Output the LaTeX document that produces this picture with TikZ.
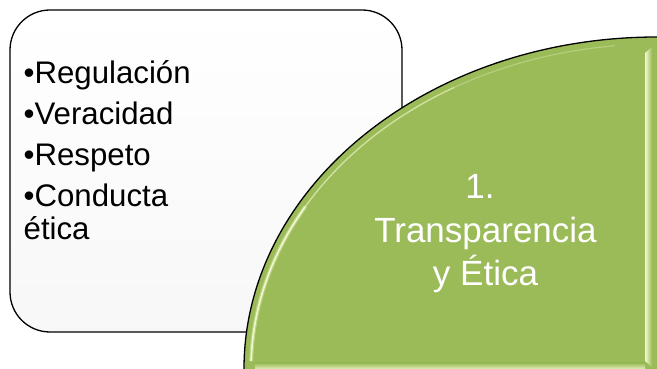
\documentclass[tikz,border=0pt]{standalone}
\usepackage{fontspec}
\setmainfont{Liberation Sans}
\definecolor{olivegreen}{HTML}{9BBB59}
\definecolor{hilite}{HTML}{F4FAD0}
\begin{document}
\begin{tikzpicture}[x=1pt,y=1pt,
  item/.style={anchor=base west, inner sep=0pt, text=black,
    font=\fontsize{31.2}{34}\selectfont},
  title/.style={anchor=base, inner sep=0pt, text=white,
    font=\fontsize{35}{40}\selectfont},
  panel/.style={draw=black, line width=1.3pt, rounded corners=40pt,
    top color=white, bottom color=black!3, inner sep=0pt, outer sep=0pt}]
\useasboundingbox (0,0) rectangle (657,369);
% left rounded panel
\node[panel, minimum width=392pt, minimum height=322pt, anchor=north west] (box) at (10,359) {};
% list text
\node[item] (l1) at (23.5,285) {•Regulación};
\node[item] (l2) at (23.5,244) {•Veracidad};
\node[item] (l3) at (23.5,203) {•Respeto};
\node[item] (l4) at (23.5,162) {•Conducta};
\node[item] (l5) at (23.5,129) {ética};
% green quarter shape
\fill[olivegreen] (657,-2) -- (244,-2) -- (244,0)
  arc[start angle=180, end angle=90, x radius=413, y radius=332] -- (659,332) -- (659,-2) -- cycle;
% bevel highlights
\draw[hilite, line width=4pt, opacity=0.35] (657,0) ++(178.6:406 and 325) arc[start angle=178.6, end angle=150, x radius=406, y radius=325];
\draw[hilite, line width=1.6pt, opacity=0.95] (657,0) ++(178.6:406 and 325) arc[start angle=178.6, end angle=150, x radius=406, y radius=325];
\draw[hilite, line width=1.4pt, opacity=0.6] (657,0) ++(150:406 and 325) arc[start angle=150, end angle=120, x radius=406, y radius=325];
\draw[hilite, line width=1.2pt, opacity=0.3] (657,0) ++(120:406 and 325) arc[start angle=120, end angle=96, x radius=406, y radius=325];
\shade[left color=hilite, right color=olivegreen] (645,8) -- (645,316) -- (652,322) -- (652,2) -- cycle;
\shade[bottom color=hilite!80!olivegreen, top color=olivegreen] (255,0) rectangle (645,6);
% outline of the arc
\draw[black, line width=1.3pt] (244,-2) -- (244,0)
  arc[start angle=180, end angle=90, x radius=413, y radius=332] -- (659,332);
% title text
\node[title] (t1) at (480,170) {1.};
\node[title] (t2) at (485.5,126.5) {Transparencia};
\node[title] (t3) at (485.5,83) {y Ética};
\end{tikzpicture}
\end{document}
